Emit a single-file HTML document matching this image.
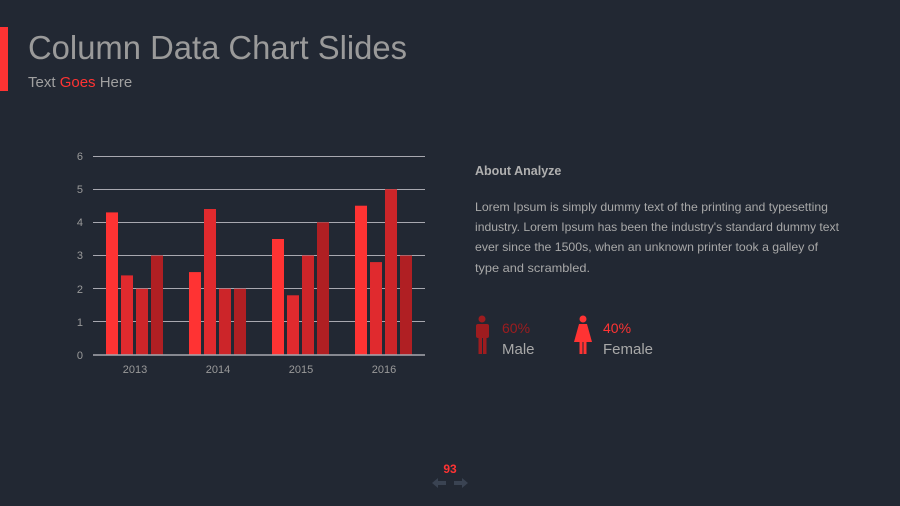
<!DOCTYPE html>
<html><head><meta charset="utf-8"><style>
html,body{margin:0;padding:0;background:#222833;}
svg{display:block}
text{font-family:"Liberation Sans",sans-serif}
</style></head><body>
<svg width="900" height="506" viewBox="0 0 900 506" xmlns="http://www.w3.org/2000/svg">
<rect width="900" height="506" fill="#222833"/>
<rect x="0" y="27" width="8" height="64" fill="#ff3333"/>
<text x="28" y="59" font-size="33" fill="#9a9a9a" textLength="379" lengthAdjust="spacingAndGlyphs">Column Data Chart Slides</text>
<text x="28" y="87" font-size="15" fill="#a0a0a0">Text <tspan fill="#ff3333">Goes</tspan> Here</text>
<g stroke="#a8a8b0" stroke-width="1">
<line x1="93" x2="425" y1="156.5" y2="156.5"/><line x1="93" x2="425" y1="189.5" y2="189.5"/>
<line x1="93" x2="425" y1="222.5" y2="222.5"/><line x1="93" x2="425" y1="255.5" y2="255.5"/>
<line x1="93" x2="425" y1="288.5" y2="288.5"/><line x1="93" x2="425" y1="321.5" y2="321.5"/>
</g>
<g font-size="11" fill="#9a9a9a" text-anchor="end">
<text x="83" y="160">6</text><text x="83" y="193">5</text><text x="83" y="226">4</text>
<text x="83" y="259">3</text><text x="83" y="293">2</text><text x="83" y="326">1</text><text x="83" y="359">0</text>
</g>
<g>
<rect x="106" y="212.4" width="12" height="142.6" fill="#ff3333"/>
<rect x="121" y="275.4" width="12" height="79.6" fill="#e02a2e"/>
<rect x="136" y="288.7" width="12" height="66.3" fill="#cc2529"/>
<rect x="151" y="255.5" width="12" height="99.5" fill="#b01f23"/>
<rect x="189" y="272.1" width="12" height="82.9" fill="#ff3333"/>
<rect x="204" y="209" width="12" height="146" fill="#e02a2e"/>
<rect x="219" y="288.7" width="12" height="66.3" fill="#cc2529"/>
<rect x="234" y="288.7" width="12" height="66.3" fill="#b01f23"/>
<rect x="272" y="239" width="12" height="116" fill="#ff3333"/>
<rect x="287" y="295.3" width="12" height="59.7" fill="#e02a2e"/>
<rect x="302" y="255.5" width="12" height="99.5" fill="#cc2529"/>
<rect x="317" y="222.3" width="12" height="132.7" fill="#b01f23"/>
<rect x="355" y="205.7" width="12" height="149.3" fill="#ff3333"/>
<rect x="370" y="262.1" width="12" height="92.9" fill="#e02a2e"/>
<rect x="385" y="189.2" width="12" height="165.8" fill="#cc2529"/>
<rect x="400" y="255.5" width="12" height="99.5" fill="#b01f23"/>
</g>
<line x1="93" x2="425" y1="355" y2="355" stroke="#a8a8b0" stroke-width="1.5"/>
<g font-size="11" fill="#9a9a9a" text-anchor="middle">
<text x="135" y="373">2013</text><text x="218" y="373">2014</text><text x="301" y="373">2015</text><text x="384" y="373">2016</text>
</g>
<text x="475" y="175" font-size="12.5" font-weight="bold" fill="#b0b0b0">About  Analyze</text>
<g font-size="12" fill="#a8a8a8">
<text x="475" y="211" textLength="353" lengthAdjust="spacingAndGlyphs">Lorem Ipsum is simply dummy text of the printing and typesetting</text>
<text x="475" y="231" textLength="364" lengthAdjust="spacingAndGlyphs">industry. Lorem Ipsum has been the industry's standard dummy text</text>
<text x="475" y="251" textLength="343" lengthAdjust="spacingAndGlyphs">ever since the 1500s, when an unknown printer took a galley of</text>
<text x="475" y="272" textLength="115" lengthAdjust="spacingAndGlyphs">type and scrambled.</text>
</g>
<!-- male icon -->
<g fill="#9e1c1f">
<circle cx="482" cy="319" r="3.5"/>
<rect x="476" y="324" width="13" height="14" rx="2"/>
<rect x="478.5" y="330" width="3.5" height="24"/>
<rect x="483" y="330" width="3.5" height="24"/>
</g>
<text x="502" y="333" font-size="14" fill="#9e1c1f">60%</text>
<text x="502" y="354" font-size="15" fill="#a8a8a8">Male</text>
<!-- female icon -->
<g fill="#ff3333">
<circle cx="583" cy="319" r="3.5"/>
<path d="M579 324 H587 L592 342 H574 Z"/>
<rect x="579.5" y="340" width="3" height="14"/>
<rect x="583.5" y="340" width="3" height="14"/>
</g>
<text x="603" y="333" font-size="14" fill="#ff3333">40%</text>
<text x="603" y="354" font-size="15" fill="#a8a8a8">Female</text>
<text x="450" y="473" font-size="12" font-weight="bold" fill="#ff3333" text-anchor="middle">93</text>
<g fill="#3a4352">
<path d="M432 483 L438 478 V481 H446 V485 H438 V488 Z"/>
<path d="M468 483 L462 478 V481 H454 V485 H462 V488 Z"/>
</g>
</svg>
</body></html>
